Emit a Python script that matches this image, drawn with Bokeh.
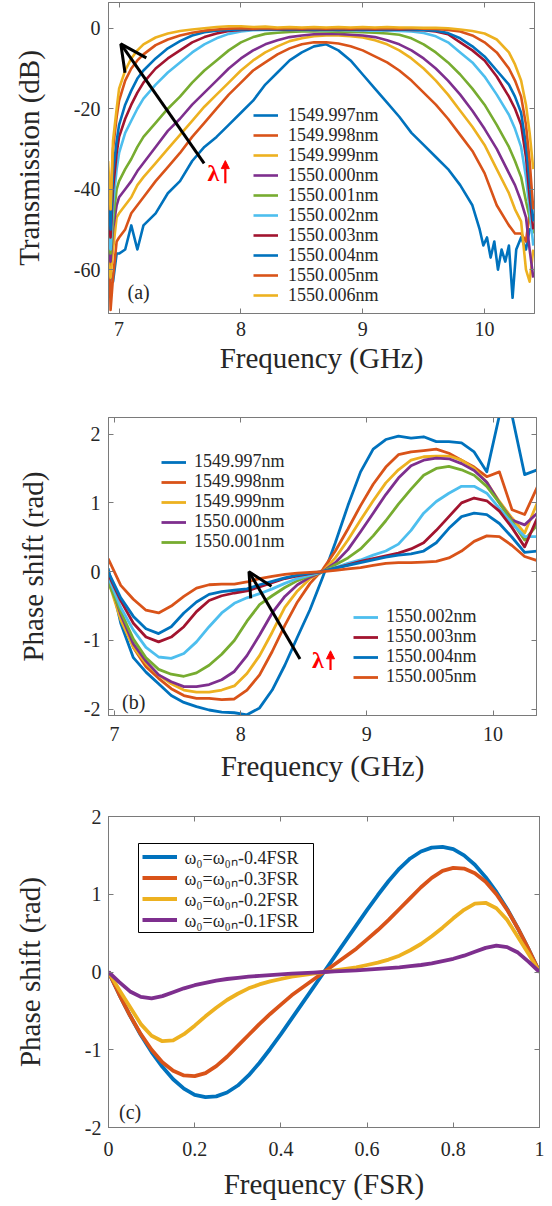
from bokeh.plotting import figure
from bokeh.models import (Range1d, LinearAxis, FixedTicker, Legend, LegendItem, Label,
                          Arrow, OpenHead, NormalHead, CustomJSTickFormatter,
                          CustomLabelingPolicy, BoxAnnotation)
from bokeh.layouts import column
from bokeh.embed import file_html
from bokeh.resources import INLINE

SERIF = "Liberation Serif"
AX = "#7a7a7a"
TXT = "#262626"
BLUE, ORANGE, YELLOW, PURPLE = "#0072BD", "#D95319", "#EDB120", "#7E2F8E"
GREEN, LBLUE, DRED = "#77AC30", "#4DBEEE", "#A2142F"

# ---------------- panel (a): transmission ----------------
freq_a = [6.91, 6.93, 6.95, 6.98, 7.0, 7.05, 7.1, 7.15, 7.2, 7.3, 7.4, 7.5, 7.6, 7.7, 7.8,
          7.9, 8.0, 8.1, 8.2, 8.3, 8.4, 8.5, 8.6, 8.7, 8.8, 8.9, 9.0, 9.1, 9.2, 9.3, 9.4,
          9.5, 9.6, 9.7, 9.8, 9.9, 10.0, 10.1, 10.2, 10.25, 10.3, 10.34, 10.37, 10.4]
freq_a997 = [6.91, 6.93, 6.95, 6.98, 7.0, 7.05, 7.1, 7.15, 7.2, 7.3, 7.4, 7.5, 7.6, 7.7, 7.8,
             7.9, 8.0, 8.1, 8.2, 8.3, 8.4, 8.5, 8.6, 8.7, 8.8, 8.9, 9.0, 9.1, 9.2, 9.3, 9.4,
             9.5, 9.6, 9.7, 9.8, 9.9, 9.96, 9.99, 10.02, 10.05, 10.08, 10.11, 10.14, 10.17,
             10.2, 10.23, 10.26, 10.3, 10.34, 10.37, 10.4]
t_1549_997 = [-42, -60, -63, -56, -56, -55, -49, -55, -49, -46, -41, -38, -33, -29.5, -27,
              -24, -21, -18, -14, -11, -8, -6, -4.5, -4, -5.5, -8, -11.5, -15, -18.5, -22,
              -26, -29, -32, -35, -39, -44, -50, -54, -52, -57, -53, -60, -55, -58, -54,
              -67, -55, -52, -55, -50, -50]
t_1549_998 = [-40, -70, -62, -53, -52, -50, -46, -44, -42, -38, -34.5, -31, -27, -23.5, -20,
              -16.5, -13.5, -10.5, -8.5, -6.5, -5, -4, -3.5, -3.5, -3.8, -4.5, -5.5, -7, -8.5,
              -10.5, -13, -16, -19, -22.5, -26.5, -30.5, -36, -44, -49, -51, -51, -53, -46, -44]
t_1549_999 = [-58, -62, -55, -47, -46, -44, -42, -39, -37, -33.5, -30, -26.5, -23, -19.5, -16.5,
              -13.5, -10.5, -8, -6, -4.5, -3.2, -2.5, -2, -1.8, -1.8, -2, -2.3, -3, -4, -5.5,
              -7.5, -10, -13, -16.5, -20.5, -24.5, -29, -35, -41, -45, -48, -60, -63, -55]
t_1550_000 = [-52, -58, -50, -44, -42, -40, -38, -35.5, -33.5, -29.5, -25.5, -22.5, -19, -16, -13,
              -10, -7.5, -5.5, -4, -3, -2.2, -1.8, -1.5, -1.4, -1.4, -1.6, -1.8, -2.2, -3, -4,
              -5.5, -7.5, -10, -13, -16.5, -20.5, -25, -30, -36, -39, -43, -47, -55, -62]
t_1550_001 = [-50, -56, -48, -40, -38, -35, -32.5, -29.5, -27, -23.5, -20, -17, -13.5, -10.5, -8,
              -5.5, -3.5, -2.2, -1.4, -1.1, -0.9, -0.8, -0.8, -0.8, -0.9, -0.9, -1, -1.1, -1.3,
              -1.6, -2.5, -4, -6, -8.5, -11.5, -15, -19, -24, -29.5, -33, -37, -43, -47, -51]
t_1550_002 = [-52, -55, -44, -35, -31, -26, -23, -20, -17.5, -14, -11, -8.5, -6, -4, -2.5,
              -1.4, -0.8, -0.5, -0.4, -0.4, -0.4, -0.4, -0.5, -0.5, -0.5, -0.5, -0.6, -0.6, -0.6,
              -0.7, -0.8, -1.2, -2, -3.5, -6, -8.5, -12, -16.5, -21.5, -25, -29.5, -37, -45, -54]
t_1550_003 = [-46, -52, -40, -31, -27, -22.5, -19, -16, -13.5, -10, -7.5, -5.5, -3.5, -2.2, -1.3,
              -0.7, -0.4, -0.3, -0.3, -0.3, -0.4, -0.3, -0.4, -0.3, -0.4, -0.3, -0.4, -0.3, -0.4,
              -0.3, -0.4, -0.5, -0.8, -1.5, -3.5, -5.5, -8, -12, -17, -20, -24, -32, -42, -50]
t_1550_004 = [-41, -50, -36, -28, -24, -19, -15.5, -12.5, -10.5, -7.5, -5, -3.2, -1.8, -1, -0.6,
              -0.4, -0.3, -0.2, -0.3, -0.2, -0.3, -0.2, -0.3, -0.2, -0.3, -0.2, -0.3, -0.2, -0.3,
              -0.2, -0.3, -0.4, -0.6, -1.2, -2.5, -4.5, -7, -10.5, -14, -17, -21, -29, -38, -48]
t_1550_005 = [-38, -45, -30, -22, -18, -13, -10, -8, -6.5, -4.2, -2.8, -1.8, -1.1, -0.6, -0.3,
              -0.1, 0, -0.1, 0, -0.1, 0, -0.1, 0, -0.1, 0, -0.1, 0, -0.1, 0, -0.1, 0, -0.1,
              -0.2, -0.4, -0.8, -1.8, -3.5, -6, -10, -13, -17, -24, -33, -45]
t_1550_006 = [-33, -45, -28, -20, -15, -10.5, -7.5, -5.5, -4, -2.3, -1.3, -0.7, -0.3, 0, 0.3,
              0.5, 0.5, 0.3, 0.4, 0.2, 0.3, 0.2, 0.3, 0.2, 0.3, 0.2, 0.3, 0.2, 0.3, 0.2,
              0.2, 0.1, 0.1, 0, -0.3, -0.7, -1.3, -2.8, -6, -9, -13, -19, -26, -35]
labels_a = ["1549.997nm", "1549.998nm", "1549.999nm", "1550.000nm", "1550.001nm",
            "1550.002nm", "1550.003nm", "1550.004nm", "1550.005nm", "1550.006nm"]
series_a = [t_1549_997, t_1549_998, t_1549_999, t_1550_000, t_1550_001,
            t_1550_002, t_1550_003, t_1550_004, t_1550_005, t_1550_006]
xs_a = [freq_a997] + [freq_a] * 9
colors_a = [BLUE, ORANGE, YELLOW, PURPLE, GREEN, LBLUE, DRED, BLUE, ORANGE, YELLOW]

# ---------------- panel (b): measured phase ----------------
freq_b = [6.95, 7.05, 7.15, 7.25, 7.35, 7.45, 7.55, 7.65, 7.75, 7.85, 7.95, 8.05, 8.15, 8.25,
          8.35, 8.45, 8.55, 8.65, 8.75, 8.85, 8.95, 9.05, 9.15, 9.25, 9.35, 9.45, 9.55, 9.65,
          9.75, 9.85, 9.95, 10.05, 10.15, 10.25, 10.35]
p_1549_997 = [0.05, -0.75, -1.25, -1.46, -1.63, -1.8, -1.9, -1.96, -2.01, -2.04, -2.05, -2.08,
              -1.98, -1.72, -1.36, -0.95, -0.55, -0.08, 0.42, 0.96, 1.45, 1.78, 1.92, 1.97,
              1.94, 1.96, 1.89, 1.89, 1.87, 1.74, 1.45, 2.27, 2.27, 1.41, 1.48]
p_1549_998 = [-0.07, -0.6, -1.1, -1.38, -1.55, -1.7, -1.8, -1.84, -1.84, -1.86, -1.85, -1.72,
              -1.5, -1.16, -0.78, -0.44, -0.17, 0.03, 0.3, 0.62, 0.96, 1.27, 1.52, 1.7, 1.74,
              1.76, 1.78, 1.72, 1.62, 1.52, 1.38, 1.45, 0.9, 0.83, 1.23]
p_1549_999 = [-0.12, -0.7, -1.1, -1.33, -1.5, -1.63, -1.72, -1.75, -1.75, -1.72, -1.66, -1.48,
              -1.22, -0.88, -0.52, -0.28, -0.1, 0.0, 0.2, 0.46, 0.75, 1.03, 1.29, 1.48, 1.62,
              1.67, 1.68, 1.68, 1.62, 1.5, 1.3, 1.02, 0.78, 0.56, 1.0]
p_1550_000 = [-0.07, -0.62, -1.05, -1.3, -1.5, -1.6, -1.67, -1.67, -1.64, -1.57, -1.45, -1.22,
              -0.92, -0.6, -0.36, -0.19, -0.08, 0.0, 0.13, 0.32, 0.58, 0.85, 1.12, 1.36, 1.54,
              1.62, 1.65, 1.64, 1.57, 1.47, 1.3, 1.0, 0.75, 0.68, 0.85]
p_1550_001 = [-0.15, -0.58, -0.98, -1.25, -1.42, -1.49, -1.52, -1.47, -1.36, -1.2, -1.0, -0.72,
              -0.48, -0.35, -0.23, -0.13, -0.06, 0.0, 0.1, 0.2, 0.33, 0.52, 0.74, 0.98, 1.2,
              1.4, 1.5, 1.53, 1.48, 1.4, 1.24, 1.0, 0.73, 0.46, 0.68]
p_1550_002 = [-0.07, -0.52, -0.85, -1.1, -1.24, -1.26, -1.19, -1.02, -0.8, -0.6, -0.46, -0.38,
              -0.32, -0.25, -0.17, -0.1, -0.05, 0.0, 0.06, 0.12, 0.17, 0.24, 0.3, 0.4, 0.6,
              0.85, 1.02, 1.14, 1.24, 1.24, 1.14, 0.92, 0.7, 0.51, 0.51]
p_1550_003 = [-0.03, -0.42, -0.75, -0.95, -1.02, -0.95, -0.8, -0.58, -0.42, -0.35, -0.31, -0.28,
              -0.22, -0.16, -0.1, -0.06, -0.03, 0.0, 0.05, 0.1, 0.15, 0.19, 0.23, 0.27, 0.33,
              0.42, 0.6, 0.8, 1.0, 1.07, 1.03, 0.88, 0.64, 0.36, 0.78]
p_1550_004 = [0.0, -0.38, -0.65, -0.83, -0.9, -0.8, -0.6, -0.44, -0.33, -0.29, -0.27, -0.25,
              -0.19, -0.14, -0.09, -0.05, -0.02, 0.0, 0.05, 0.09, 0.13, 0.17, 0.21, 0.24, 0.26,
              0.3, 0.42, 0.63, 0.8, 0.85, 0.83, 0.7, 0.5, 0.28, 0.3]
p_1550_005 = [0.19, -0.2, -0.4, -0.56, -0.6, -0.5, -0.36, -0.24, -0.19, -0.18, -0.18, -0.15,
              -0.1, -0.07, -0.04, -0.02, -0.01, 0.0, 0.02, 0.04, 0.06, 0.09, 0.12, 0.13, 0.13,
              0.14, 0.15, 0.2, 0.3, 0.44, 0.52, 0.51, 0.38, 0.22, 0.16]
labels_b = labels_a[:9]
series_b = [p_1549_997, p_1549_998, p_1549_999, p_1550_000, p_1550_001,
            p_1550_002, p_1550_003, p_1550_004, p_1550_005]
colors_b = colors_a[:9]

# ---------------- panel (c): simulated phase ----------------
freq_c = [0, 0.025, 0.05, 0.075, 0.1, 0.125, 0.15, 0.175, 0.2, 0.225, 0.25, 0.275, 0.3, 0.325,
          0.35, 0.375, 0.4, 0.425, 0.45, 0.475, 0.5, 0.525, 0.55, 0.575, 0.6, 0.625, 0.65,
          0.675, 0.7, 0.725, 0.75, 0.775, 0.8, 0.825, 0.85, 0.875, 0.9, 0.925, 0.95, 0.975, 1.0]
c_04 = [0, -0.29, -0.56, -0.81, -1.03, -1.22, -1.38, -1.5, -1.58, -1.61, -1.6, -1.55, -1.46,
        -1.33, -1.17, -0.99, -0.8, -0.6, -0.4, -0.2, 0, 0.2, 0.4, 0.6, 0.8, 0.99, 1.17, 1.33,
        1.46, 1.55, 1.6, 1.61, 1.58, 1.5, 1.38, 1.22, 1.03, 0.81, 0.56, 0.29, 0]
c_03 = [0, -0.29, -0.56, -0.8, -1.0, -1.16, -1.27, -1.33, -1.34, -1.3, -1.21, -1.09, -0.95,
        -0.81, -0.67, -0.54, -0.42, -0.3, -0.2, -0.1, 0, 0.1, 0.2, 0.3, 0.42, 0.54, 0.67, 0.81,
        0.95, 1.09, 1.21, 1.3, 1.34, 1.33, 1.27, 1.16, 1.0, 0.8, 0.56, 0.29, 0]
c_02 = [0, -0.23, -0.45, -0.67, -0.82, -0.89, -0.88, -0.8, -0.69, -0.57, -0.46, -0.36, -0.28,
        -0.21, -0.16, -0.12, -0.09, -0.06, -0.04, -0.02, 0, 0.02, 0.04, 0.06, 0.09, 0.12, 0.16,
        0.21, 0.28, 0.36, 0.46, 0.57, 0.69, 0.8, 0.88, 0.89, 0.82, 0.67, 0.45, 0.23, 0]
c_01 = [0, -0.13, -0.25, -0.32, -0.34, -0.31, -0.26, -0.21, -0.17, -0.14, -0.11, -0.09, -0.075,
        -0.06, -0.05, -0.04, -0.03, -0.02, -0.015, -0.007, 0, 0.007, 0.015, 0.02, 0.03, 0.04,
        0.05, 0.06, 0.075, 0.09, 0.11, 0.14, 0.17, 0.21, 0.26, 0.31, 0.34, 0.32, 0.25, 0.13, 0]
labels_c = ["ω₀=ω₀ₙ-0.4FSR", "ω₀=ω₀ₙ-0.3FSR", "ω₀=ω₀ₙ-0.2FSR", "ω₀=ω₀ₙ-0.1FSR"]
series_c = [c_04, c_03, c_02, c_01]
colors_c = [BLUE, ORANGE, YELLOW, PURPLE]

FMT = "return String(tick);"
NO_LABELS = "for (let i = 0; i < indices.size; i++) { indices.unset(i) }\nreturn indices"


def make_fig(xr, yr, xt, yt, xlabel, ylabel, fw, fh, bl, bt, bb, br,
             xls=(6, 3), yls=(8, 22)):
    p = figure(frame_width=fw, frame_height=fh, x_range=Range1d(*xr), y_range=Range1d(*yr),
               output_backend="svg", toolbar_location=None,
               min_border_left=bl, min_border_top=bt, min_border_bottom=bb, min_border_right=br)
    p.xgrid.visible = False
    p.ygrid.visible = False
    p.outline_line_color = AX
    p.background_fill_color = "white"
    for ax, ticks, lab, (s1, s2) in ((p.xaxis[0], xt, xlabel, xls), (p.yaxis[0], yt, ylabel, yls)):
        ax.ticker = FixedTicker(ticks=ticks)
        ax.formatter = CustomJSTickFormatter(code=FMT)
        ax.axis_line_color = AX
        ax.major_tick_line_color = AX
        ax.major_tick_in = 5
        ax.major_tick_out = 0
        ax.minor_tick_line_color = None
        ax.major_label_text_font = SERIF
        ax.major_label_text_font_size = "20px"
        ax.major_label_text_color = TXT
        ax.major_label_standoff = s1
        ax.axis_label = lab
        ax.axis_label_text_font = SERIF
        ax.axis_label_text_font_size = "29px"
        ax.axis_label_text_font_style = "normal"
        ax.axis_label_text_color = TXT
        ax.axis_label_standoff = s2
    for loc, ticks in (("above", xt), ("right", yt)):
        ax = LinearAxis(ticker=FixedTicker(ticks=ticks), major_label_text_font_size="0px",
                        major_label_policy=CustomLabelingPolicy(code=NO_LABELS),
                        major_label_standoff=0, major_tick_in=5, major_tick_out=0,
                        minor_tick_line_color=None, axis_line_color=AX,
                        major_tick_line_color=AX)
        p.add_layout(ax, loc)
    return p


def add_entries(p, items, x, y_top, step, gw, standoff, lh):
    # one legend box per entry, so that the rows sit exactly one step apart
    for i, item in enumerate(items):
        lg = Legend(items=[item], location=(x, y_top - i * step), glyph_width=gw,
                    glyph_height=lh, label_height=lh, label_standoff=standoff, spacing=0,
                    padding=0, margin=0, label_text_font=SERIF, label_text_font_size="18px",
                    label_text_color=TXT, background_fill_alpha=0.0, border_line_color=None)
        p.add_layout(lg)


def lambda_mark(p, x_text, y_text, x_arrow, y0, y1):
    p.add_layout(Label(x=x_text, y=y_text, text="λ", text_color="red", text_font=SERIF,
                       text_font_style="bold", text_font_size="24px", text_baseline="middle"))
    p.add_layout(Arrow(end=NormalHead(size=8, fill_color="red", line_color="red", line_width=1),
                       x_start=x_arrow, y_start=y0, x_end=x_arrow, y_end=y1,
                       line_color="red", line_width=2.2))


# ---- figure a
pa = make_fig((6.913, 10.41), (-70.9, 6.4), [7, 8, 9, 10], [-60, -40, -20, 0],
              "Frequency (GHz)", "Transmission (dB)", 426, 311, 103, 2, 80, 10,
              xls=(8, 3), yls=(8, 26))
rend_a = []
for xs, ys, c in zip(xs_a, series_a, colors_a):
    rend_a.append(pa.line(xs, ys, line_color=c, line_width=2.6, line_join="round"))
add_entries(pa, [LegendItem(label=l, renderers=[r]) for l, r in zip(labels_a, rend_a)],
            145, 187.5, 20, 25, 10, 20)
pa.add_layout(Arrow(end=OpenHead(size=26, line_width=3, line_color="black"),
                    x_start=7.698, y_start=-33.6, x_end=7.014, y_end=-3.9,
                    line_width=3, line_color="black"))
lambda_mark(pa, 7.726, -35.9, 7.872, -38.5, -32.9)
pa.add_layout(Label(x=19, y=21.5, x_units="screen", y_units="screen", text="(a)",
                    text_font=SERIF, text_font_size="20px", text_color=TXT,
                    text_baseline="middle"))

# ---- figure b
pb = make_fig((6.953, 10.344), (-2.09, 2.24), [7, 8, 9, 10], [-2, -1, 0, 1, 2],
              "Frequency (GHz)", "Phase shift (rad)", 428, 298, 103, 24, 80, 8,
              xls=(11, 6), yls=(8, 32))
rend_b = []
for ys, c in zip(series_b, colors_b):
    rend_b.append(pb.line(freq_b, ys, line_color=c, line_width=2.8, line_join="round"))
items_b = [LegendItem(label=l, renderers=[r]) for l, r in zip(labels_b, rend_b)]
add_entries(pb, items_b[:5], 53, 243, 20, 25, 8, 20)
add_entries(pb, items_b[5:], 245, 88, 20, 25, 8, 20)
pb.add_layout(Arrow(end=OpenHead(size=24, line_width=3, line_color="black"),
                    x_start=8.47, y_start=-1.27, x_end=8.066, y_end=0.0,
                    line_width=3, line_color="black"))
lambda_mark(pb, 8.565, -1.29, 8.712, -1.43, -1.15)
pb.add_layout(Label(x=13.5, y=13.5, x_units="screen", y_units="screen", text="(b)",
                    text_font=SERIF, text_font_size="20px", text_color=TXT,
                    text_baseline="middle"))

# ---- figure c
pc = make_fig((0, 1), (-2, 2), [0, 0.2, 0.4, 0.6, 0.8, 1], [-2, -1, 0, 1, 2],
              "Frequency (FSR)", "Phase shift (rad)", 431, 311, 108, 21, 74, 10,
              xls=(14, 9), yls=(7, 36))
rend_c = []
for ys, c in zip(series_c, colors_c):
    rend_c.append(pc.line(freq_c, ys, line_color=c, line_width=3.8, line_join="round"))
pc.add_layout(BoxAnnotation(left=30, right=205, bottom=195, top=284,
                            left_units="screen", right_units="screen",
                            bottom_units="screen", top_units="screen",
                            fill_color="white", fill_alpha=1.0,
                            line_color="black", line_width=1, line_alpha=1.0))
add_entries(pc, [LegendItem(label=l, renderers=[r]) for l, r in zip(labels_c, rend_c)],
            33.5, 258.5, 21, 35, 8, 21)
pc.add_layout(Label(x=10.5, y=16, x_units="screen", y_units="screen", text="(c)",
                    text_font=SERIF, text_font_size="20px", text_color=TXT,
                    text_baseline="middle"))

layout = column(pa, pb, pc, spacing=0)
open("out.html", "w").write(file_html(layout, INLINE))
